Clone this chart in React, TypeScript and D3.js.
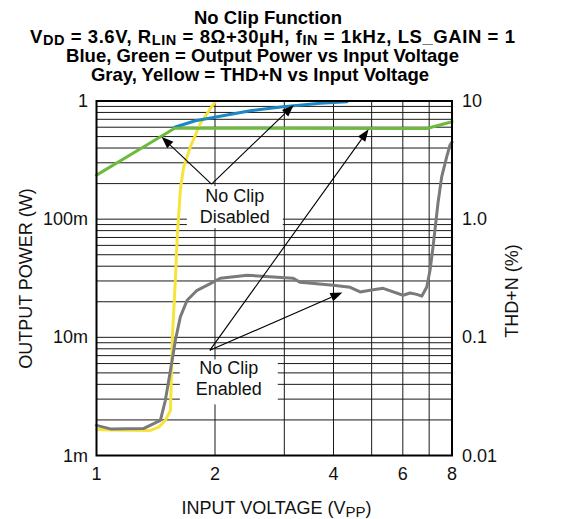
import React from "react";
import * as d3 from "d3";

const W = 570;
const H = 519;

// Axis ticks
const voltageTicks = [1, 2, 4, 6, 8];
const voltageGrid = [2, 3, 4, 5, 6, 7];
const powerTicks = [0.001, 0.01, 0.1, 1];
const powerTickLabels = ["1m", "10m", "100m", "1"];
const thdTicks = [0.01, 0.1, 1, 10];
const thdTickLabels = ["0.01", "0.1", "1.0", "10"];

// Output power, no clip disabled (blue)
const blueV = [1.568, 1.586, 1.783, 2.028, 2.458, 2.981, 3.7, 4.33];
const blueP = [0.587, 0.602, 0.681, 0.736, 0.827, 0.895, 0.956, 0.986];

// Output power, no clip enabled (green)
const greenV = [1.0, 1.371, 1.58, 6.9, 8.0];
const greenP = [0.236, 0.443, 0.588, 0.586, 0.668];

// THD+N, no clip disabled (yellow)
const yellowV = [1.0, 1.085, 1.371, 1.439, 1.496, 1.541, 1.562, 1.586, 1.602, 1.633, 1.665, 1.732, 1.836, 2.004];
const yellowTHD = [0.0166, 0.0164, 0.0163, 0.0174, 0.0198, 0.0241, 0.115, 0.304, 0.664, 1.76, 2.77, 4.1, 6.47, 9.9];

// THD+N, no clip enabled (gray)
const grayV = [1.0, 1.085, 1.316, 1.453, 1.496, 1.541, 1.586, 1.633, 1.699, 1.801, 1.946, 2.063, 2.416, 3.16, 3.292, 3.992, 4.41, 4.674, 4.955, 5.346, 6.009, 6.26, 6.51, 6.703, 6.902, 7.035, 7.159, 7.371, 7.532, 7.755, 7.906, 8.0];
const grayTHD = [0.018, 0.0168, 0.0169, 0.0198, 0.0293, 0.0525, 0.094, 0.149, 0.206, 0.25, 0.285, 0.316, 0.335, 0.316, 0.292, 0.276, 0.265, 0.242, 0.25, 0.26, 0.227, 0.237, 0.231, 0.223, 0.267, 0.37, 0.58, 1.37, 2.28, 3.37, 4.24, 4.5];

// Annotations
const disabledLabel = ["No Clip", "Disabled"];
const disabledBox = { v: 2.246, p: 0.1264 };
const disabledOrigin = { v: 1.96, p: 0.198 };
const disabledTargetsV = [1.463, 3.17];
const disabledTargetsP = [0.498, 0.925];

const enabledLabel = ["No Clip", "Enabled"];
const enabledBox = { v: 2.168, p: 0.00424 };
const enabledOrigin = { v: 1.94, p: 0.00776 };
const enabledPowerTarget = { v: 4.912, p: 0.576 };
const enabledThdTarget = { v: 4.213, t: 0.24 };

const FONT = "'Liberation Sans', Arial, Helvetica, sans-serif";

export default function App() {
  const left = 96.5, right = 452, top = 101, bottom = 455.5;
  const x = d3.scaleLog().domain([1, 8]).range([left, right]);
  const yP = d3.scaleLog().domain([0.001, 1]).range([bottom, top]);
  const yT = d3.scaleLog().domain([0.01, 10]).range([bottom, top]);

  const hGrid: number[] = [];
  [0.001, 0.01, 0.1].forEach((d) => {
    for (let k = 1; k <= 9; k++) hGrid.push(d * k);
  });
  hGrid.push(1);

  const lineP = d3.line<[number, number]>().x((d) => x(d[0])).y((d) => yP(d[1]));
  const lineT = d3.line<[number, number]>().x((d) => x(d[0])).y((d) => yT(d[1]));
  const zip = (a: number[], b: number[]) => a.map((v, i) => [v, b[i]] as [number, number]);

  const arrow = (x0: number, y0: number, x1: number, y1: number, key: string) => {
    const dx = x1 - x0, dy = y1 - y0;
    const len = Math.sqrt(dx * dx + dy * dy);
    const ux = dx / len, uy = dy / len;
    const L = 12, hw = 4.5;
    const bx = x1 - ux * L, by = y1 - uy * L;
    const nx = -uy, ny = ux;
    return (
      <g key={key}>
        <line x1={x0} y1={y0} x2={bx} y2={by} stroke="#000" strokeWidth={1.1} />
        <polygon points={`${x1},${y1} ${bx + nx * hw},${by + ny * hw} ${bx - nx * hw},${by - ny * hw}`} fill="#000" />
      </g>
    );
  };

  const dbx = x(disabledBox.v), dby = yP(disabledBox.p);
  const ebx = x(enabledBox.v), eby = yP(enabledBox.p);

  return (
    <svg width={W} height={H} style={{ position: "absolute", left: 0, top: 0, background: "#fff" }} fontFamily={FONT}>
      <rect x={0} y={0} width={W} height={H} fill="#fff" />
      {/* Title */}
      <g fontWeight="bold" fontSize={18.5} textAnchor="middle" fill="#000">
        <text x={268} y={23.5}>No Clip Function</text>
        <text x={272.5} y={42.5} textLength={485} lengthAdjust="spacing">
          V<tspan fontSize={14.5} dy={2.5}>DD</tspan>
          <tspan dy={-2.5}> = 3.6V, R</tspan>
          <tspan fontSize={14.5} dy={2.5}>LIN</tspan>
          <tspan dy={-2.5}> = 8Ω+30µH, f</tspan>
          <tspan fontSize={14.5} dy={2.5}>IN</tspan>
          <tspan dy={-2.5}> = 1kHz, LS_GAIN = 1</tspan>
        </text>
        <text x={262.5} y={61.5}>Blue, Green = Output Power vs Input Voltage</text>
        <text x={260} y={81}>Gray, Yellow = THD+N vs Input Voltage</text>
      </g>

      {/* Grid */}
      <g stroke="#1a1a1a" strokeWidth={1}>
        {hGrid.map((v, i) => (
          <line key={"h" + i} x1={left} x2={right} y1={yP(v)} y2={yP(v)} />
        ))}
        {voltageGrid.map((v, i) => (
          <line key={"v" + i} x1={x(v)} x2={x(v)} y1={top} y2={bottom} />
        ))}
      </g>

      {/* Annotation boxes */}
      <rect x={dbx - 48} y={dby - 21} width={96} height={42} fill="#fff" />
      <rect x={ebx - 49} y={eby - 22} width={98} height={45} fill="#fff" />

      {/* Curves */}
      <g fill="none" strokeWidth={3} strokeLinejoin="round" strokeLinecap="round">
        <path d={lineT(zip(yellowV, yellowTHD)) || ""} stroke="#f7e43a" />
        <path d={lineT(zip(grayV, grayTHD)) || ""} stroke="#7a7a7a" />
        <path d={lineP(zip(blueV, blueP)) || ""} stroke="#1b87c5" />
        <path d={lineP(zip(greenV, greenP)) || ""} stroke="#6cbb3c" />
      </g>

      {/* Annotation text */}
      <g fontSize={18} textAnchor="middle" fill="#111">
        <text x={dbx} y={dby - 5.5}>{disabledLabel[0]}</text>
        <text x={dbx} y={dby + 16}>{disabledLabel[1]}</text>
        <text x={ebx} y={eby - 7.5}>{enabledLabel[0]}</text>
        <text x={ebx} y={eby + 14}>{enabledLabel[1]}</text>
      </g>

      {/* Arrows */}
      {disabledTargetsV.map((v, i) =>
        arrow(x(disabledOrigin.v), yP(disabledOrigin.p), x(v), yP(disabledTargetsP[i]), "d" + i)
      )}
      {arrow(x(enabledOrigin.v), yP(enabledOrigin.p), x(enabledPowerTarget.v), yP(enabledPowerTarget.p), "e0")}
      {arrow(x(enabledOrigin.v), yP(enabledOrigin.p), x(enabledThdTarget.v), yT(enabledThdTarget.t), "e1")}

      {/* Frame */}
      <rect x={left} y={top} width={right - left} height={bottom - top} fill="none" stroke="#000" strokeWidth={2} />

      {/* Axis tick labels */}
      <g fontSize={18} fill="#111">
        {powerTicks.map((v, i) => (
          <text key={"pl" + i} x={88} y={yP(v)} textAnchor="end" dominantBaseline="central">
            {powerTickLabels[i]}
          </text>
        ))}
        {thdTicks.map((v, i) => (
          <text key={"tl" + i} x={462} y={yT(v)} textAnchor="start" dominantBaseline="central">
            {thdTickLabels[i]}
          </text>
        ))}
        {voltageTicks.map((v, i) => (
          <text key={"xl" + i} x={x(v)} y={480} textAnchor="middle">
            {String(v)}
          </text>
        ))}
      </g>

      {/* Axis titles */}
      <g fontSize={18} fill="#111" textAnchor="middle">
        <text x={276.5} y={514}>
          INPUT VOLTAGE (V<tspan fontSize={15} dy={3}>PP</tspan>
          <tspan dy={-3}>)</tspan>
        </text>
        <text transform="translate(26,278.5) rotate(-90)" dominantBaseline="central">OUTPUT POWER (W)</text>
        <text transform="translate(512,291) rotate(-90)" dominantBaseline="central">THD+N (%)</text>
      </g>
    </svg>
  );
}
